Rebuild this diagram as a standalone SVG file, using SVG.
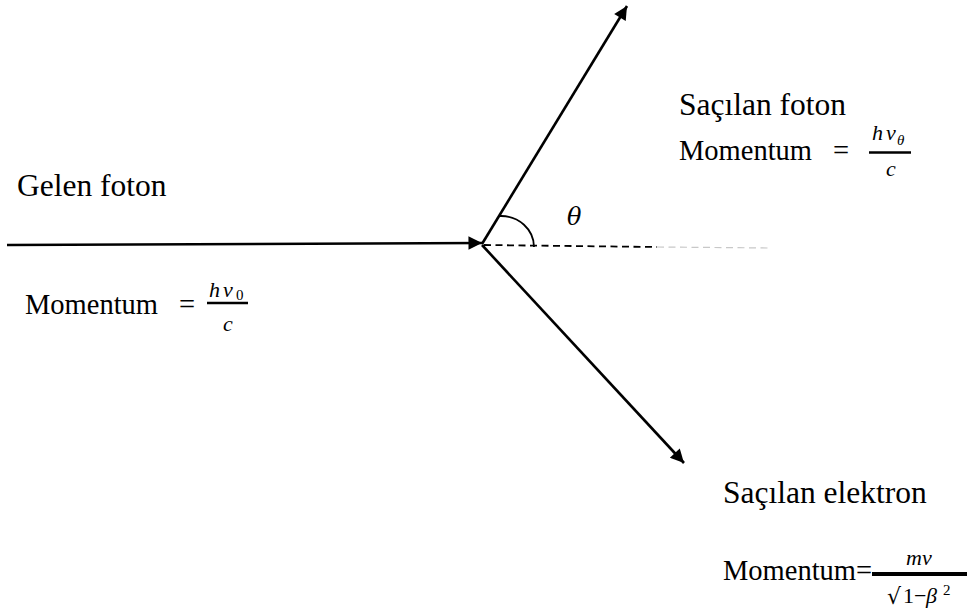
<svg xmlns="http://www.w3.org/2000/svg" width="971" height="610" viewBox="0 0 971 610">
<style>
.lbl{font-size:31.5px;fill:#000}
.mom{font-size:28.5px;fill:#000}
.m{font-style:italic;font-size:22px;fill:#000}
.mu{font-size:22px;fill:#000}
.ms{font-style:italic;font-size:15px;fill:#000}
.msu{font-size:15px;fill:#000}
.ln{stroke:#000;stroke-width:2.6;fill:none}
.bar{stroke:#000;stroke-width:2.6}
</style>
<defs>
<marker id="ah" viewBox="0 0 10 10" refX="10" refY="5" markerWidth="6.6" markerHeight="5.2" markerUnits="strokeWidth" orient="auto">
<path d="M0,0 L10,5 L0,10 Z" fill="#000"/>
</marker>
</defs>
<g id="connectors">
<line class="ln" x1="7" y1="245" x2="482" y2="243" marker-end="url(#ah)"/>
<line class="ln" x1="482" y1="244" x2="627" y2="6" marker-end="url(#ah)"/>
<line class="ln" x1="482" y1="245" x2="684" y2="463" marker-end="url(#ah)"/>
<line x1="484" y1="245" x2="657" y2="247" stroke="#000" stroke-width="1.8" stroke-dasharray="7,4.5"/>
<line x1="657" y1="247" x2="770" y2="248" stroke="#c8c8c8" stroke-width="1.2" stroke-dasharray="7,4.5"/>
<path d="M500,216 A33,31 0 0 1 534,247" stroke="#000" stroke-width="1.8" fill="none"/>
</g>
<g id="theta"><text x="567" y="225" font-family="'DejaVu Serif', serif" font-style="italic" font-size="24">θ</text></g>
<g font-family="'Liberation Serif', 'Times New Roman', serif">
<g id="gelen">
<text class="lbl" x="17" y="196">Gelen foton</text>
<text class="mom" x="25" y="314">Momentum</text>
<text class="mom" x="179" y="314">=</text>
<text class="m" x="209" y="297">h</text><text class="m" x="223" y="297">v</text><text class="msu" x="236" y="300">0</text>
<line class="bar" x1="207" y1="303" x2="248" y2="303"/>
<text class="m" x="223" y="331">c</text>
</g>
<g id="sacilan-foton">
<text class="lbl" x="679" y="115">Saçılan foton</text>
<text class="mom" x="679" y="160">Momentum</text>
<text class="mom" x="833" y="160">=</text>
<text class="m" x="872" y="140">h</text><text class="m" x="886" y="140">v</text><text class="ms" x="897" y="145">θ</text>
<line class="bar" x1="869" y1="152.5" x2="911" y2="152.5"/>
<text class="m" x="886" y="176">c</text>
</g>
<g id="sacilan-elektron">
<text class="lbl" x="723" y="503">Saçılan elektron</text>
<text class="mom" x="723" y="580">Momentum=</text>
<text class="m" x="906" y="565">mv</text>
<line x1="872" y1="574" x2="967" y2="574" stroke="#000" stroke-width="4"/>
<text x="887" y="604" font-family="'DejaVu Sans', sans-serif" font-size="22">√</text>
<text class="mu" x="903" y="603">1−</text><text class="m" x="926" y="603">β</text><text class="msu" x="943" y="595">2</text>
</g>
</g>
</svg>
